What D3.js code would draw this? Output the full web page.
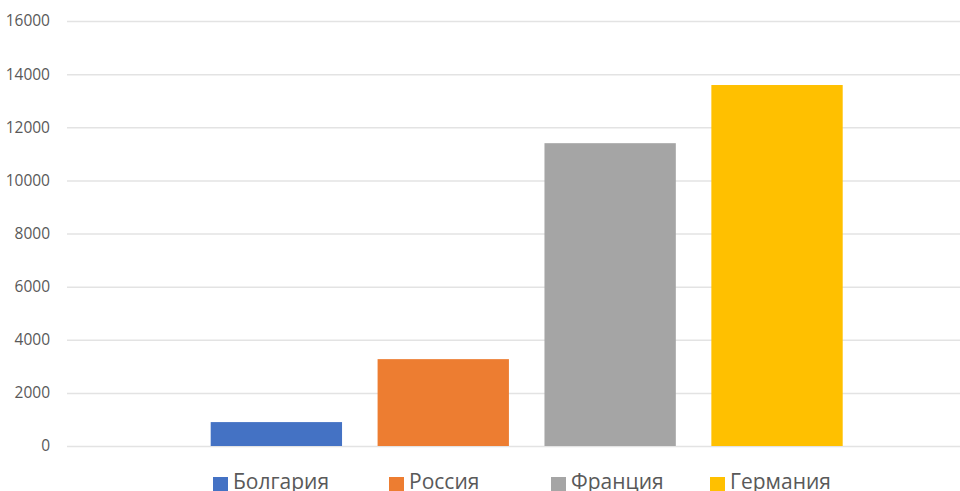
<!DOCTYPE html>
<html>
<head>
<meta charset="utf-8">
<script src="https://cdn.jsdelivr.net/npm/d3@7"></script>
<style>
  html, body { margin: 0; padding: 0; background: #fff; overflow: hidden; }
  svg { display: block; }
  text { font-family: "Open Sans", "Liberation Sans", sans-serif; }
</style>
</head>
<body>
<svg id="chart" width="960" height="491"></svg>
<script>
// Data
const categories = ["Болгария", "Россия", "Франция", "Германия"];
const values = [900, 3270, 11400, 13590];
const colors = ["#4472C4", "#ED7D31", "#A5A5A5", "#FFC000"];
const yTicks = [0, 2000, 4000, 6000, 8000, 10000, 12000, 14000, 16000];

const svg = d3.select("#chart");

const y = d3.scaleLinear().domain([0, 16000]).range([446, 21]);
const x = d3.scaleBand().domain(categories).range([210.7, 842.7])
  .paddingInner(0.213).paddingOuter(0);

// gridlines + y axis labels
const axis = d3.axisLeft(y).tickValues(yTicks).tickSize(-(986 - 67)).tickPadding(17)
  .tickFormat(d3.format("d"));
const gAxis = svg.append("g").attr("transform", "translate(67,0)").call(axis);
gAxis.select(".domain").remove();
gAxis.selectAll(".tick line").attr("stroke", "#e3e3e3").attr("stroke-width", 1.5);
gAxis.selectAll(".tick text").attr("fill", "#595959").attr("font-size", 15.5)
  .attr("font-family", "'Open Sans', 'Liberation Sans', sans-serif");

// bars
svg.append("g").selectAll("rect").data(categories).join("rect")
  .attr("x", d => x(d))
  .attr("width", x.bandwidth())
  .attr("y", (d, i) => y(values[i]))
  .attr("height", (d, i) => y(0) - y(values[i]))
  .attr("fill", (d, i) => colors[i]);

// legend
const legendX = [213, 389, 551, 710];
const lg = svg.append("g");
categories.forEach((c, i) => {
  const g = lg.append("g").attr("transform", `translate(${legendX[i]},0)`);
  g.append("rect").attr("x", 0).attr("y", 477).attr("width", 15).attr("height", 15).attr("fill", colors[i]);
  g.append("text").attr("x", 20).attr("y", 488.5).attr("font-size", 21)
    .attr("fill", "#595959").text(c);
});
</script>
</body>
</html>
